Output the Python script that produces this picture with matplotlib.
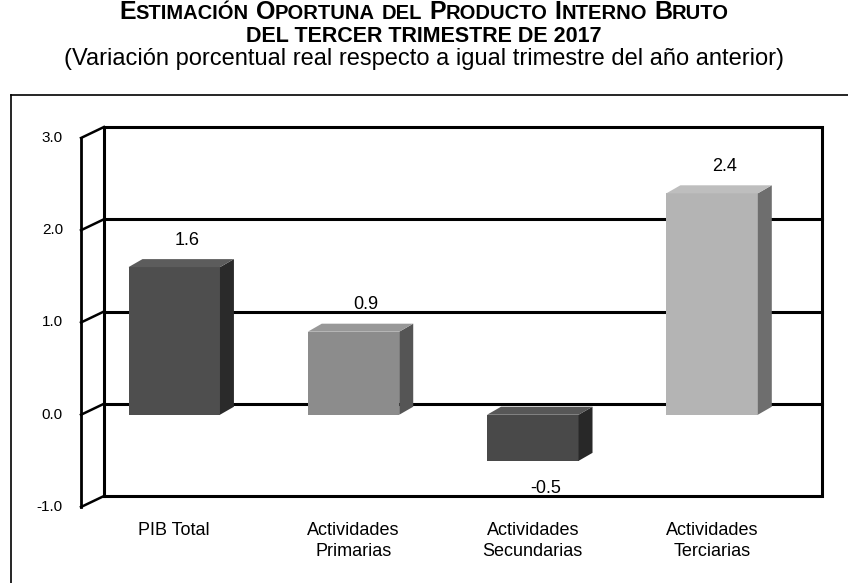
import numpy as np
import matplotlib.pyplot as plt
from matplotlib.patches import Polygon
from matplotlib.lines import Line2D
from matplotlib.offsetbox import TextArea, HPacker, AnnotationBbox

plt.rcParams['font.family'] = ['Liberation Sans', 'DejaVu Sans']

categories = ['PIB Total', 'Actividades\nPrimarias', 'Actividades\nSecundarias', 'Actividades\nTerciarias']
values = [1.6, 0.9, -0.5, 2.4]
front_colors = ['#4e4e4e', '#8c8c8c', '#494949', '#b4b4b4']
side_colors = ['#2a2a2a', '#555555', '#282828', '#6e6e6e']
top_colors = ['#5c5c5c', '#989898', '#575757', '#bebebe']
yticks = [-1.0, 0.0, 1.0, 2.0, 3.0]

W, H = 848, 583
fig = plt.figure(figsize=(W / 100, H / 100), dpi=100)
ax = fig.add_axes([81 / W, 1 - 507 / H, (822 - 81) / W, (507 - 127) / H])

# depth of the back wall and of the bars (data units)
dx, dy = 0.128, 0.119
bdx, bdy = 0.078, 0.087
bw = 0.51
xmin, xmax = -0.52, 3.613
ymin, ymax = -1.0, 3.0
ax.set_xlim(xmin, xmax)
ax.set_ylim(ymin, ymax + dy)
ax.axis('off')

lw = 2.2
# back wall
bx0 = xmin + dx
ax.plot([bx0, bx0, xmax, xmax, bx0], [ymin + dy, ymax + dy, ymax + dy, ymin + dy, ymin + dy],
        color='black', lw=lw, solid_joinstyle='miter', clip_on=False, zorder=1)
for t in [0.0, 1.0, 2.0]:
    ax.plot([bx0, xmax], [t + dy, t + dy], color='black', lw=lw, clip_on=False, zorder=1)

# side wall with ticks
ax.plot([xmin, xmin], [ymin, ymax], color='black', lw=2.0, clip_on=False, zorder=1)
for t in yticks:
    ax.plot([xmin, bx0], [t, t + dy], color='black', lw=1.8, clip_on=False, zorder=1)
    ax.annotate(f'{t:.1f}', xy=(xmin, t), xytext=(-18, 0), textcoords='offset pixels',
                ha='right', va='center', fontsize=11)

# bars
for i, v in enumerate(values):
    x0, x1 = i - bw / 2, i + bw / 2
    lo, hi = min(0, v), max(0, v)
    front = Polygon([(x0, lo), (x0, hi), (x1, hi), (x1, lo)], closed=True,
                    facecolor=front_colors[i], edgecolor='none', zorder=3)
    side = Polygon([(x1, lo), (x1, hi), (x1 + bdx, hi + bdy), (x1 + bdx, lo + bdy)], closed=True,
                   facecolor=side_colors[i], edgecolor='none', zorder=3)
    top = Polygon([(x0, hi), (x0 + bdx, hi + bdy), (x1 + bdx, hi + bdy), (x1, hi)], closed=True,
                  facecolor=top_colors[i], edgecolor='none', zorder=3)
    for p in (front, side, top):
        ax.add_patch(p)
    off = 27 if v >= 0 else -28
    ax.annotate(f'{v:.1f}', xy=(i + 0.07, v), xytext=(0, off), textcoords='offset pixels',
                ha='center', va='center', fontsize=13)
    ax.annotate(categories[i], xy=(i, ymin), xytext=(0, -15), textcoords='offset pixels',
                ha='center', va='top', fontsize=13, linespacing=1.3)

# outer frame (open at right and bottom)
fig.add_artist(Line2D([11 / W, 1], [1 - 95 / H, 1 - 95 / H], color='black', lw=1.2))
fig.add_artist(Line2D([11 / W, 11 / W], [0, 1 - 95 / H], color='black', lw=1.2))

# title in small caps
big, small = 18, 14.5
def word(first, rest, size_first, size_rest):
    kids = []
    if first:
        kids.append(TextArea(first, textprops=dict(fontsize=size_first, fontweight='bold')))
    kids.append(TextArea(rest, textprops=dict(fontsize=size_rest, fontweight='bold')))
    return HPacker(children=kids, align='baseline', pad=0, sep=0)

line1 = HPacker(children=[word('E', 'STIMACIÓN', big, small), word('O', 'PORTUNA', big, small),
                          word('', 'DEL', big, small), word('P', 'RODUCTO', big, small),
                          word('I', 'NTERNO', big, small), word('B', 'RUTO', big, small)],
                align='baseline', pad=0, sep=5)
fig.add_artist(AnnotationBbox(line1, (424, H - 12), xycoords='figure pixels', frameon=False,
                              box_alignment=(0.5, 0.5)))
line2 = TextArea('DEL TERCER TRIMESTRE DE 2017', textprops=dict(fontsize=15.5, fontweight='bold'))
fig.add_artist(AnnotationBbox(line2, (424, H - 36), xycoords='figure pixels', frameon=False,
                              box_alignment=(0.5, 0.5)))
fig.text(424 / W, 1 - 59 / H, '(Variación porcentual real respecto a igual trimestre del año anterior)',
         ha='center', va='center', fontsize=17)

fig.savefig('out.png', dpi=100)
